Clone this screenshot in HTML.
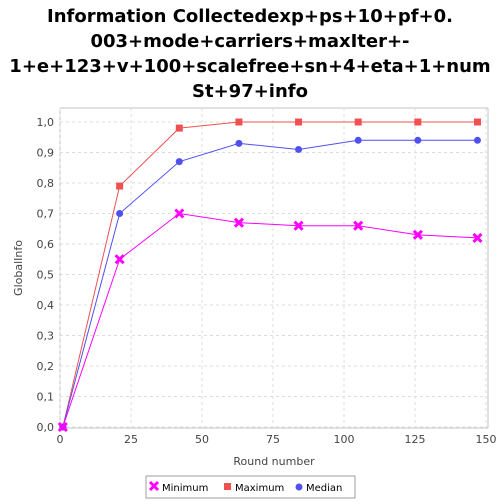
<!DOCTYPE html>
<html><head><meta charset="utf-8"><style>
body{margin:0;background:#fff;width:500px;height:500px;overflow:hidden;font-family:"DejaVu Sans","Liberation Sans",sans-serif}
</style></head><body>
<svg width="500" height="500" xmlns="http://www.w3.org/2000/svg" font-family="DejaVu Sans, Liberation Sans, sans-serif">
<g font-weight="bold" font-size="18" text-anchor="middle" fill="#000">
<text x="250" y="22">Information Collectedexp+ps+10+pf+0.</text>
<text x="250" y="47">003+mode+carriers+maxIter+-</text>
<text x="250" y="72">1+e+123+v+100+scalefree+sn+4+eta+1+num</text>
<text x="250" y="97">St+97+info</text>
</g>
<rect x="60" y="108" width="428" height="320" fill="#fff" stroke="#888" stroke-width="0.5"/>
<g id="grid"></g>
<g id="axes"></g>
<g id="series"></g>
<text x="274" y="465" font-size="11" text-anchor="middle" fill="#444">Round number</text>
<text transform="translate(22,268) rotate(-90)" font-size="11" text-anchor="middle" fill="#444">GlobalInfo</text>
<g>
<rect x="146" y="476" width="209" height="22" fill="#fff" stroke="#888" stroke-width="0.8"/>
<g><path d="M150,482 l8,8 M158,482 l-8,8" stroke="#ff00ff" stroke-width="3"/><text x="162" y="491" font-size="10">Minimum</text></g>
<g><rect x="224" y="483" width="7" height="7" fill="#f05050"/><text x="235" y="491" font-size="10">Maximum</text></g>
<g><circle cx="299" cy="487" r="3.5" fill="#5050f0"/><text x="306" y="491" font-size="10">Median</text></g>
</g>
</svg>
<script>
const rounds=[1,21,42,63,84,105,126,147];
const minimum=[0,0.55,0.70,0.67,0.66,0.66,0.63,0.62];
const maximum=[0,0.79,0.98,1,1,1,1,1];
const median=[0,0.70,0.87,0.93,0.91,0.94,0.94,0.94];
const xTicks=[0,25,50,75,100,125,150];
const yTicks=[0,0.1,0.2,0.3,0.4,0.5,0.6,0.7,0.8,0.9,1.0];
const NS="http://www.w3.org/2000/svg";
const X=v=>60+v*(426/150), Y=v=>427-v*305;
function mk(t,a,p){const e=document.createElementNS(NS,t);for(const k in a)e.setAttribute(k,a[k]);p.appendChild(e);return e;}
const grid=document.getElementById('grid'),axes=document.getElementById('axes'),ser=document.getElementById('series');
xTicks.forEach(t=>{
 const g=mk('line',{x1:X(t),x2:X(t),y1:108,y2:428,stroke:'#ddd','stroke-dasharray':'3,3'},grid);
 
 
 const l=mk('text',{x:X(t),y:443,'font-size':11,'text-anchor':'middle',fill:'#444'},axes);l.textContent=t;
 
 
});
yTicks.forEach(t=>{
 const g=mk('line',{x1:60,x2:488,y1:Y(t),y2:Y(t),stroke:'#ddd','stroke-dasharray':'3,3'},grid);
 
 
 const l=mk('text',{x:54,y:Y(t)+4,'font-size':11,'text-anchor':'end',fill:'#444'},axes);l.textContent=t.toFixed(1).replace('.',',');
 
 
});
function line(vals,col,name,marker){
 const p=mk('polyline',{points:rounds.map((r,i)=>X(r)+','+Y(vals[i])).join(' '),fill:'none',stroke:col,'stroke-width':1},ser);
 
 
 rounds.forEach((r,i)=>{
  const x=X(r),y=Y(vals[i]);let m;
  if(marker==='x')m=mk('path',{d:`M${x-4},${y-4}L${x+4},${y+4}M${x+4},${y-4}L${x-4},${y+4}`,stroke:col,'stroke-width':3},ser);
  else if(marker==='s')m=mk('rect',{x:x-3.5,y:y-3.5,width:7,height:7,fill:col},ser);
  else m=mk('circle',{cx:x,cy:y,r:3.5,fill:col},ser);
  
  
 });
}
line(maximum,'#f05050','maximum','s');
line(median,'#5050f0','median','c');
line(minimum,'#ff00ff','minimum','x');
</script>
</body></html>
